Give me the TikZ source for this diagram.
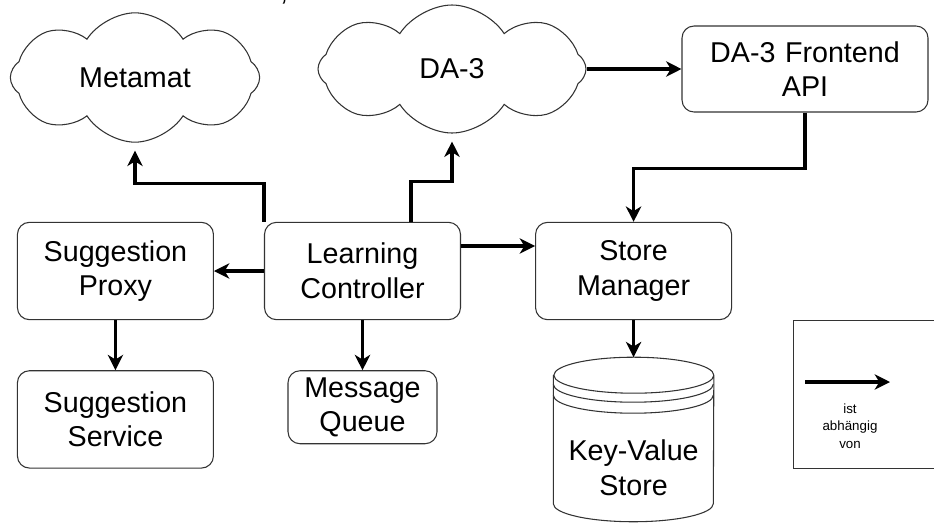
\documentclass[tikz,border=0pt]{standalone}
\usepackage{fontspec}
\setmainfont{Liberation Sans}
\usetikzlibrary{shapes,arrows.meta,positioning}
\tikzstyle{component} = [rectangle, draw=black!80, line width=0.8pt, fill=white,
    text width=135pt, text centered, inner xsep=6pt, rounded corners=9pt, minimum height=73pt]
\tikzstyle{service} = [cloud, draw=black!80, line width=0.8pt, fill=white,
    cloud puffs=8, cloud puff arc=115, aspect=1.93, minimum width=187pt, minimum height=97pt]
\tikzstyle{datastore} = [draw=black!80, line width=0.8pt]
\tikzstyle{legendbox} = [rectangle, draw=black!80, line width=0.8pt, minimum width=130pt, minimum height=111pt]
\tikzstyle{dependency} = [line width=2.4pt]

\begin{document}
\begin{tikzpicture}[font=\fontsize{21.5}{26}\selectfont, >={Stealth[length=11.5pt,width=11.5pt,inset=3.5pt]}]
    \useasboundingbox (0,0) rectangle (700.5pt,-391.5pt);

    \node[anchor=base] (clipMark) at (213pt,0) {,};

    \node[component] (learningController) at (271.875pt,-203.25pt) {Learning\\Controller};
    \node[component, left=37.5pt of learningController] (suggestionProxy) {Suggestion\\Proxy};
    \node[component, right=55.5pt of learningController] (storeManager) {Store\\Manager};
    \node[component, below=37.5pt of suggestionProxy] (suggestionService) {Suggestion\\Service};
    \node[component, text width=99.75pt, minimum height=54.75pt, below=37.5pt of learningController] (messageQueue) {Message\\Queue};

    \node[service] (metamat) at (101.25pt,-58.125pt) {Metamat};
    \node[service, minimum width=201pt, minimum height=96pt, aspect=2.09] (da3) at (339pt,-51.75pt) {DA-3};
    \node[component, text width=172.5pt, minimum height=64.5pt] (frontendApi) at (603.75pt,-51.75pt) {DA-3 Frontend\\API};

    \node[text width=108pt, inner xsep=6pt, text centered, minimum height=80.25pt, below=70.5pt of storeManager] (keyValueStore) {Key-Value\\Store};
    \draw[datastore] ([yshift=29.25pt]keyValueStore.north west) -- ([yshift=13.5pt]keyValueStore.south west)
        arc[start angle=180, end angle=360, x radius=60pt, y radius=13.5pt]
        -- ([yshift=29.25pt]keyValueStore.north east)
        arc[start angle=0, end angle=360, x radius=60pt, y radius=13.5pt];
    \draw[datastore] ([yshift=22.5pt]keyValueStore.north west) arc[start angle=180, end angle=360, x radius=60pt, y radius=13.5pt];
    \draw[datastore] ([yshift=14.25pt]keyValueStore.north west) arc[start angle=180, end angle=360, x radius=60pt, y radius=13.5pt];

    \node[legendbox, anchor=north west] (legend) at (594.75pt,-240pt) {};
    \coordinate (legendTail) at (603.75pt,-286.5pt);
    \coordinate (legendHead) at (667.5pt,-286.5pt);
    \node[font=\fontsize{10}{13.3}\selectfont, align=center] (legendText) at (637.5pt,-319.5pt) {ist\\abhängig\\von};

    \path[draw,->,dependency] (learningController.west) -- (suggestionProxy.east);
    \path[draw,->,dependency] (suggestionProxy) -- (suggestionService);
    \path[draw,->,dependency] (learningController) -- (messageQueue);
    \path[draw,->,dependency] ([yshift=18.75pt]learningController.east) -- ([yshift=18.75pt]storeManager.west);
    \path[draw,->,dependency,shorten >=6pt] (learningController.north west) -- ++(0,28.5pt) -| (metamat.south);
    \path[draw,->,dependency,shorten >=6pt] ([xshift=36.375pt]learningController.north) -- ++(0,30pt) -| (da3.south);
    \path[draw,->,dependency] (da3.east) -- (frontendApi.west);
    \path[draw,->,dependency] (frontendApi.south) -- ++(0,-42pt) -| (storeManager.north);
    \path[draw,->,dependency] (storeManager) -- ([yshift=42.75pt]keyValueStore.north);
    \path[draw,->,dependency] (legendTail) -- (legendHead);
\end{tikzpicture}
\end{document}
